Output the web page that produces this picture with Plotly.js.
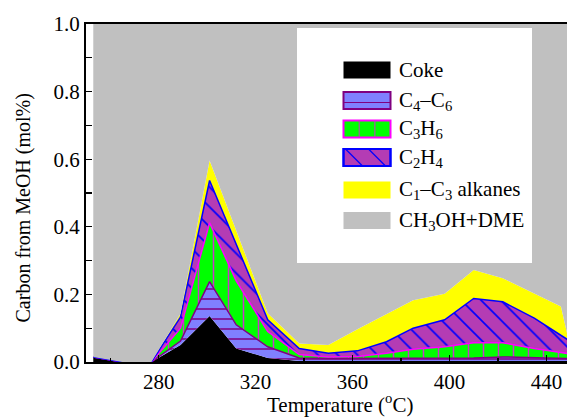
<!DOCTYPE html>
<html><head><meta charset="utf-8">
<script src="https://cdn.plot.ly/plotly-3.0.1.min.js"></script>
<style>html,body{margin:0;padding:0;background:#fff}#chart{width:567px;height:417px}</style>
</head><body><div id="chart"></div>
<script>
// Temperatures (°C) of the measured points
const temperature = [253, 265, 277, 289, 301, 312, 325, 338, 350, 362, 374, 385, 398, 410, 422, 435, 446, 449];
// Carbon fraction from MeOH for each product (stacked from bottom to top)
const coke    = [0.015, 0, 0, 0.050, 0.136, 0.040, 0.012, 0.003, 0.003, 0.003, 0.003, 0.003, 0.003, 0.003, 0.003, 0.003, 0.003, 0.003];
const c4c6    = [0, 0, 0, 0.012, 0.102, 0.070, 0.033, 0.009, 0.007, 0.007, 0.009, 0.009, 0.009, 0.009, 0.012, 0.009, 0.007, 0.007];
const c3h6    = [0, 0, 0, 0.038, 0.174, 0.130, 0.045, 0.010, 0.005, 0.006, 0.014, 0.026, 0.033, 0.045, 0.042, 0.028, 0.018, 0.015];
const c2h4    = [0, 0, 0, 0.033, 0.125, 0.110, 0.035, 0.018, 0.011, 0.017, 0.034, 0.062, 0.080, 0.131, 0.121, 0.090, 0.052, 0.040];
const alkanes = [0, 0, 0, 0.010, 0.059, 0.040, 0.019, 0.015, 0.024, 0.064, 0.081, 0.083, 0.077, 0.084, 0.070, 0.073, 0.084, 0.005];
const meohDme = [0.985, 1, 1, 0.857, 0.404, 0.610, 0.856, 0.945, 0.950, 0.903, 0.859, 0.817, 0.798, 0.728, 0.752, 0.797, 0.836, 0.930];

const seriesNames = ['Coke', 'C<sub>4</sub>\u2013C<sub>6</sub>', 'C<sub>3</sub>H<sub>6</sub>', 'C<sub>2</sub>H<sub>4</sub>', 'C<sub>1</sub>\u2013C<sub>3</sub> alkanes', 'CH<sub>3</sub>OH+DME'];
const xTicks = [280, 320, 360, 400, 440];
const xTitle = 'Temperature (<sup>o</sup>C)';
const yTitle = 'Carbon from MeOH (mol%)';

const FONT = '"Liberation Serif", "Times New Roman", Times, serif';
const W = 567, H = 417, ML = 86, MR = 0, MT = 24, MB = 55;
const px = x => (x - ML) / (W - ML - MR);
const py = y => (H - MB - y) / (H - MT - MB);

function layer(name, y, opts) {
  return Object.assign({type: 'scatter', mode: 'lines', x: temperature, y: y, name: name,
    stackgroup: 'one', hoverinfo: 'skip', showlegend: false}, opts);
}

const traces = [
  layer(seriesNames[0], coke, {line: {width: 0, color: '#000000'}, fillcolor: '#000000'}),
  layer(seriesNames[1], c4c6, {line: {width: 1.5, color: '#800080'}, fillcolor: '#8080ff',
    fillpattern: {shape: '-', bgcolor: '#8080ff', fgcolor: '#800080', size: 10, solidity: 0.15}}),
  layer(seriesNames[2], c3h6, {line: {width: 1.5, color: '#ff00ff'}, fillcolor: '#00ff00',
    fillpattern: {shape: '|', bgcolor: '#00ff00', fgcolor: '#cc33cc', size: 15, solidity: 0.1}}),
  layer(seriesNames[3], c2h4, {line: {width: 1.5, color: '#0000ff'}, fillcolor: '#b43cb4',
    fillpattern: {shape: '\\', bgcolor: '#b43cb4', fgcolor: '#0000ff', size: 14, solidity: 0.12}}),
  layer(seriesNames[4], alkanes, {line: {width: 0, color: '#ffff00'}, fillcolor: '#ffff00'}),
  layer(seriesNames[5], meohDme, {line: {width: 0, color: '#c0c0c0'}, fillcolor: '#c0c0c0'})
];

// manual legend
const shapes = [
  {type: 'rect', xref: 'paper', yref: 'paper', x0: px(297), x1: px(532), y0: py(263), y1: py(28),
   fillcolor: '#ffffff', line: {width: 0}, layer: 'above'}
];
const rows = [70, 100.5, 129, 157.5, 190, 220.5];
const sx0 = 343.5, sx1 = 390.5, sh = 8.5;
const swFill = ['#000000', '#8080ff', '#00ff00', '#b43cb4', '#ffff00', '#c0c0c0'];
const swLine = [null, '#800080', '#ff00ff', '#0000ff', null, null];
rows.forEach((r, i) => {
  shapes.push({type: 'rect', xref: 'paper', yref: 'paper', x0: px(sx0), x1: px(sx1), y0: py(r + sh), y1: py(r - sh),
    fillcolor: swFill[i], line: swLine[i] ? {color: swLine[i], width: 2} : {width: 0}, layer: 'above'});
});
// pattern strokes inside swatches
shapes.push({type: 'line', xref: 'paper', yref: 'paper', x0: px(sx0), x1: px(sx1), y0: py(rows[1] + 2), y1: py(rows[1] + 2),
  line: {color: '#800080', width: 1}, layer: 'above'});
[sx0 + 15.7, sx0 + 31.4].forEach(x => shapes.push({type: 'line', xref: 'paper', yref: 'paper', x0: px(x), x1: px(x),
  y0: py(rows[2] + sh), y1: py(rows[2] - sh), line: {color: '#cc33cc', width: 1}, layer: 'above'}));
[sx0 + 2, sx0 + 25].forEach(x => shapes.push({type: 'line', xref: 'paper', yref: 'paper', x0: px(x), x1: px(x + 17),
  y0: py(rows[3] - sh), y1: py(rows[3] + sh), line: {color: '#0000ff', width: 1.2}, layer: 'above'}));
shapes.push({type: 'rect', xref: 'paper', yref: 'paper', x0: px(sx0), x1: px(sx1), y0: py(rows[3] + sh), y1: py(rows[3] - sh),
  fillcolor: 'rgba(0,0,0,0)', line: {color: '#0000ff', width: 2}, layer: 'above'});

const annotations = rows.map((r, i) => ({xref: 'paper', yref: 'paper', x: px(397), y: py(r), text: seriesNames[i],
  showarrow: false, xanchor: 'left', yanchor: 'middle', font: {family: FONT, size: 21, color: '#000'}}));
// axis titles (placed as in the reference)
annotations.push({xref: 'paper', yref: 'paper', x: px(340), y: py(418), text: xTitle, showarrow: false,
  xanchor: 'center', yanchor: 'bottom', borderpad: 0, font: {family: FONT, size: 21, color: '#000'}});
annotations.push({xref: 'paper', yref: 'paper', x: px(23), y: py(208.5), text: yTitle, showarrow: false, textangle: -90,
  xanchor: 'center', yanchor: 'middle', font: {family: FONT, size: 20, color: '#000'}});

const layout = {
  width: W, height: H,
  margin: {l: ML, r: MR, t: MT, b: MB, pad: 0},
  paper_bgcolor: '#ffffff', plot_bgcolor: '#ffffff',
  font: {family: FONT, size: 19, color: '#000'},
  showlegend: false,
  xaxis: {range: [250, 448.5], tickmode: 'array', tickvals: xTicks, ticktext: xTicks.map(String),
    ticks: 'inside', ticklen: 7, tickwidth: 1.5, tickcolor: '#000',
    minor: {ticks: 'inside', ticklen: 4, tickwidth: 1.2, dtick: 20, tick0: 0, tickcolor: '#000'},
    showline: true, linewidth: 2, linecolor: '#000', mirror: true, showgrid: false, zeroline: false,
    tickfont: {family: FONT, size: 21}, automargin: false},
  yaxis: {range: [0, 1], tickmode: 'linear', tick0: 0, dtick: 0.2, tickformat: '.1f',
    ticks: 'inside', ticklen: 6, tickwidth: 1.2, tickcolor: '#000',
    minor: {ticks: 'inside', ticklen: 6, tickwidth: 1.2, dtick: 0.1, tickcolor: '#000'},
    showline: true, linewidth: 2, linecolor: '#000', mirror: false, showgrid: false, zeroline: false,
    tickfont: {family: FONT, size: 21}, automargin: false},
  shapes: shapes,
  annotations: annotations
};

Plotly.newPlot('chart', traces, layout, {displayModeBar: false, staticPlot: true});
</script>
</body></html>
